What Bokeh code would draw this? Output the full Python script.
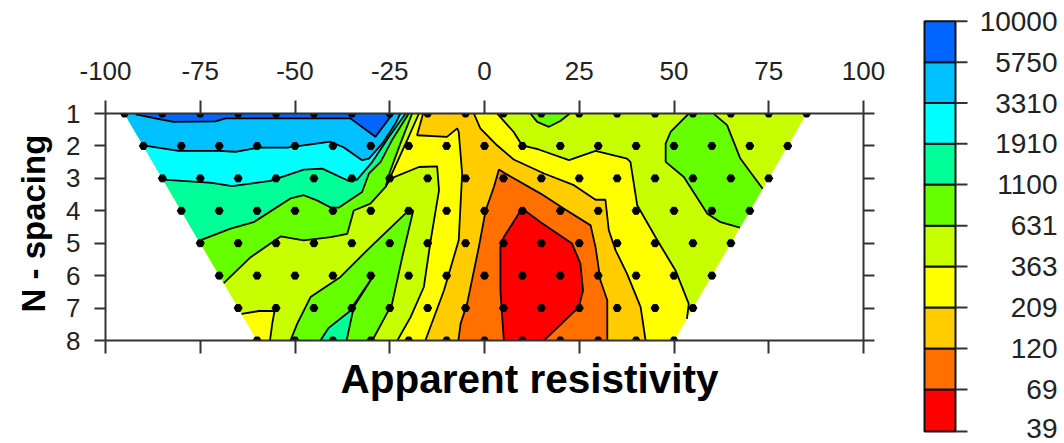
from bokeh.embed import file_html
from bokeh.resources import INLINE
from bokeh.plotting import figure
from bokeh.layouts import row
from bokeh.models import LinearAxis, FixedTicker, Title
from bokeh.core.properties import value

# --- legend / colour levels (ohm-m) ---
levels = [39, 69, 120, 209, 363, 631, 1100, 1910, 3310, 5750, 10000]
level_labels = ["39", "69", "120", "209", "363", "631", "1100", "1910", "3310", "5750", "10000"]
band_colors = ["#ff0000", "#ff7000", "#ffcc00", "#ffff00", "#c8ff00", "#66ff00",
               "#00ff99", "#00ffff", "#00c0ff", "#0066ff"]

x_ticks = [-100, -75, -50, -25, 0, 25, 50, 75, 100]
y_ticks = [1, 2, 3, 4, 5, 6, 7, 8]

# --- section outline (electrode position, n-spacing) ---
outline_x = [-95, 85, 50, -60]
outline_y = [1, 1, 8, 8]

# --- measurement points, row by row ---
row_x = {
    1: [-95, -85, -75, -65, -55, -45, -35, -25, -15, -5, 5, 15, 25, 35, 45, 55, 65, 75, 85],
    2: [-90, -80, -70, -60, -50, -40, -30, -20, -10, 0, 10, 20, 30, 40, 50, 60, 70, 80],
    3: [-85, -75, -65, -55, -45, -35, -25, -15, -5, 5, 15, 25, 35, 45, 55, 65, 75],
    4: [-80, -70, -60, -50, -40, -30, -20, -10, 0, 10, 20, 30, 40, 50, 60, 70],
    5: [-75, -65, -55, -45, -35, -25, -15, -5, 5, 15, 25, 35, 45, 55, 65],
    6: [-70, -60, -50, -40, -30, -20, -10, 0, 10, 20, 30, 40, 50, 60],
    7: [-65, -55, -45, -35, -25, -15, -5, 5, 15, 25, 35, 45, 55],
    8: [-60, -50, -40, -30, -20, -10, 0, 10, 20, 30, 40, 50],
}

# --- contour lines ---
c5750_x = [-92, -85.9, -82, -71, -68.3, -35.4, -28.8, -24.8, -24.4]
c5750_y = [1.03, 1.17, 1.26, 1.24, 1.15, 1.15, 1.72, 1.1, 1.0]

c3310_x = [-90.1, -80.7, -70.1, -65.7, -59.5, -52.1, -40.6, -37.1, -32.3, -30.5, -27, -23.5, -22.2]
c3310_y = [1.98, 2.15, 2.15, 2.18, 2.05, 2.05, 1.87, 2.05, 2.44, 2.39, 1.93, 1.31, 1.0]

c1910_x = [-84.8, -71.9, -66.6, -56.5, -47.7, -42.8, -35.8, -33.6, -29.6, -25.2, -20.8]
c1910_y = [3.04, 3.14, 3.24, 3.08, 2.73, 2.70, 3.08, 3.04, 2.49, 1.72, 1.0]

c1100a_x = [-75.4, -67, -60.9, -51.2, -47.7, -44.2, -40.6, -38.4, -32.3, -30.5, -27.4, -24.4, -20]
c1100a_y = [4.93, 4.55, 4.35, 3.62, 3.52, 3.68, 3.90, 3.90, 3.42, 2.85, 2.49, 1.82, 1.0]

c1100b_x = [-43.3, -41.1, -35.8, -29.2, -34.5, -36.4]
c1100b_y = [8, 7.61, 7.12, 5.99, 6.97, 8]

c631a_x = [-68.8, -61.7, -53.8, -47.7, -40.6, -36.2, -34.5, -30.1, -26.1, -24.8, -22.2, -19.1]
c631a_y = [6.23, 5.43, 4.79, 4.91, 4.81, 4.71, 3.99, 3.78, 3.26, 2.75, 1.93, 1.0]

c631b_x = [53.9, 49.1, 47.8, 47.8, 52.6, 58.8, 62.3, 67.4]
c631b_y = [1, 1.57, 1.93, 2.49, 2.96, 4.09, 4.35, 4.52]

c631c_x = [73.4, 67.5, 64, 60.9, 60.5]
c631c_y = [3.32, 2.39, 1.36, 1.05, 1]

c631d_x = [12.1, 13.9, 17, 20, 22.5]
c631d_y = [1, 1.26, 1.41, 1.23, 1]

c631e_x = [-51.2, -49.4, -45.9, -38, -31, -20, -18.8, -21.7, -24.4, -29.6]
c631e_y = [8, 7.48, 6.66, 6.04, 5.22, 3.99, 3.99, 5.43, 6.87, 8]

c363a_x = [-17.3, -20.4, -24.4, -26.1, -24.8, -17.3, -12.5, -12, -14.2, -16, -19.5, -23]
c363a_y = [1, 1.82, 2.85, 3.26, 3.01, 2.65, 2.63, 3.37, 4.91, 6.35, 7.28, 8]

c363b_x = [3.3, 7.7, 9.9, 14.3, 22.3, 29.3, 37.6, 38.5, 40.3, 45.6, 50.4, 53.9, 53.4]
c363b_y = [1, 1.57, 1.98, 2.11, 2.44, 2.15, 2.39, 2.49, 3.83, 4.91, 5.84, 6.87, 7.33]

c363c_x = [-64.1, -59.5, -55.4, -56, -56.6]
c363c_y = [7.18, 7.09, 7.09, 7.48, 8]

c209a_x = [-16.2, -17.8, -9.9, -7.2, -6.8, -5.9, -6.8, -10.7, -15.6]
c209a_y = [1, 1.67, 1.72, 1.46, 1.57, 2.85, 4.91, 6.46, 8]

c209b_x = [-2.8, -1.1, 3.3, 7.7, 15.7, 23.6, 29.3, 31.9, 32.8, 34.6, 37.6, 41.2, 42.5]
c209b_y = [1, 1.46, 1.98, 2.42, 2.85, 3.21, 3.66, 3.66, 4.6, 5.22, 5.94, 6.97, 8]

c120_x = [-6.9, -6.3, -4.6, -1.5, 0.3, 2.5, 3.8, 5.5, 14.8, 20.9, 28, 29.3, 30.6, 32.4, 32.4]
c120_y = [8, 7.48, 6.87, 5.12, 3.99, 3.26, 2.73, 2.85, 3.47, 3.93, 4.45, 5.12, 6.15, 6.76, 8]

c69_x = [5.1, 4.2, 4.2, 5.1, 9.9, 14.8, 23.1, 25.3, 26, 24.9, 15.7]
c69_y = [8, 6.46, 5.12, 4.81, 3.93, 4.35, 5.01, 5.63, 6.46, 6.97, 8]

C = band_colors
regions = [
    (outline_x, outline_y, C[4]),
    (c631a_x + [-95], c631a_y + [1], C[5]),
    (c631e_x, c631e_y, C[5]),
    (c631b_x + c631c_x, c631b_y + c631c_y, C[5]),
    (c631d_x, c631d_y, C[5]),
    (c1100a_x + [-95], c1100a_y + [1], C[6]),
    (c1100b_x, c1100b_y, C[6]),
    (c1910_x + [-95], c1910_y + [1], C[7]),
    (c3310_x + [-95], c3310_y + [1], C[8]),
    ([-95] + c5750_x, [1] + c5750_y, C[9]),
    (c363a_x + [50] + c363b_x[::-1], c363a_y + [8] + c363b_y[::-1], C[3]),
    (c363c_x + [-60], c363c_y + [8], C[3]),
    (c209a_x + c209b_x[::-1], c209a_y + c209b_y[::-1], C[2]),
    (c120_x, c120_y, C[1]),
    (c69_x, c69_y, C[0]),
]
lines = [
    (c5750_x, c5750_y), (c3310_x, c3310_y), (c1910_x, c1910_y), (c1100a_x, c1100a_y),
    (c1100b_x, c1100b_y), (c631a_x, c631a_y), (c631b_x, c631b_y), (c631c_x, c631c_y),
    (c631d_x, c631d_y), (c631e_x, c631e_y), (c363a_x, c363a_y), (c363b_x, c363b_y),
    (c363c_x, c363c_y), (c209a_x, c209a_y), (c209b_x, c209b_y), (c120_x, c120_y),
    (c69_x, c69_y),
]

FONT = "Liberation Sans"
INK = "#222222"

p = figure(width=908, height=443, frame_width=758, frame_height=227,
           x_range=(-100, 100), y_range=(8, 1), output_backend="svg",
           toolbar_location=None, x_axis_location="below", y_axis_location="left",
           min_border_left=105, min_border_top=113, min_border_right=45, min_border_bottom=103)
p.frame_align = False
p.grid.visible = False
p.outline_line_color = None

p.patches([r[0] for r in regions], [r[1] for r in regions],
          fill_color=[r[2] for r in regions], line_color=None)
p.multi_line([l[0] for l in lines], [l[1] for l in lines], line_color="#000000", line_width=1.8)

pts_x = [x for r in row_x for x in row_x[r]]
pts_y = [r for r in row_x for _ in row_x[r]]
p.scatter(pts_x, pts_y, marker="hex", size=8, color="#000000")

top = LinearAxis()
right = LinearAxis()
p.add_layout(top, "above")
p.add_layout(right, "right")

for ax in [p.below[0], top, p.left[0], right]:
    ax.axis_line_color = "#333333"
    ax.axis_line_width = 2
    ax.major_tick_line_color = "#333333"
    ax.major_tick_line_width = 2
    ax.minor_tick_line_color = None
    ax.major_tick_in = 0
    ax.major_label_text_font = FONT
    ax.major_label_text_font_size = "26px"
    ax.major_label_text_color = INK

for ax in [p.below[0], top]:
    ax.ticker = FixedTicker(ticks=x_ticks)
    ax.major_tick_out = 13
    ax.major_label_overrides = {t: str(t) for t in x_ticks}
for ax in [p.left[0], right]:
    ax.ticker = FixedTicker(ticks=y_ticks)
    ax.major_tick_out = 11

for ax in [p.below[0], right]:
    ax.major_label_text_font_size = "0px"
    ax.major_label_text_color = None
top.major_label_standoff = 21
p.left[0].major_label_standoff = 14

p.add_layout(Title(text="Apparent resistivity", align="left", offset=235, standoff=0,
                   text_font=FONT, text_font_style="bold", text_font_size="40.5px",
                   text_color="#000000"), "below")
p.add_layout(Title(text="N - spacing", align="left", offset=28, standoff=24,
                   text_font=FONT, text_font_style="bold", text_font_size="33px",
                   text_color="#000000"), "left")

# --- colour bar ---
cb = figure(width=150, height=443, x_range=(908, 1058), y_range=(33.2, 13232),
            y_axis_type="log", x_axis_location=None, y_axis_location=None,
            output_backend="svg", toolbar_location=None, min_border=0)
cb.frame_align = False
cb.grid.visible = False
cb.outline_line_color = None
n = len(band_colors)
cb.quad(left=[924] * n, right=[955] * n, bottom=levels[:-1], top=levels[1:],
        fill_color=band_colors, line_color="#111111", line_width=2)
cb.segment(x0=[955] * len(levels), x1=[967] * len(levels), y0=levels, y1=levels,
           line_color="#333333", line_width=2)
cb.text(x=[1057] * len(levels), y=levels, text=level_labels, text_align="right",
        text_baseline="middle", y_offset=[-3] + [0] * (len(levels) - 1),
        text_font=value(FONT), text_font_size="28px", text_color=INK)

layout = row(p, cb)
open("out.html", "w").write(file_html(layout, INLINE))
